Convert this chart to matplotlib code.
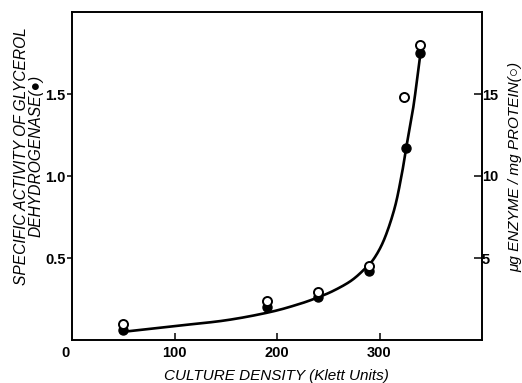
import matplotlib

matplotlib.use("Agg")
import matplotlib.pyplot as plt
import numpy as np

# values
density_filled = [50, 190, 240, 290, 326, 340]
activity_filled = [0.06, 0.20, 0.26, 0.42, 1.17, 1.75]

density_open = [50, 190, 240, 290, 324, 340]
enzyme_open = [1.0, 2.4, 2.9, 4.5, 14.8, 18.0]

# hand-drawn fit line, traced point by point
curve_x = [50, 100, 150, 193, 222, 240, 255, 272, 285, 295, 305, 315, 322, 326, 333, 340]
curve_y = [0.05, 0.085, 0.12, 0.17, 0.22, 0.26, 0.30, 0.36, 0.43, 0.50, 0.62, 0.81, 1.02, 1.17, 1.42, 1.75]

x_ticks = [100, 200, 300]
left_ticks = [0.5, 1.0, 1.5]
left_labels = ["0.5", "1.0", "1.5"]
right_ticks = [5, 10, 15]


def smooth_path(xs, ys, steps=20):
    # Catmull-Rom through the traced points, only to draw the line smoothly
    pts = np.column_stack([xs, ys]).astype(float)
    pts = np.vstack([2 * pts[0] - pts[1], pts, 2 * pts[-1] - pts[-2]])
    out = []
    t = np.linspace(0, 1, steps, endpoint=False)[:, None]
    for i in range(1, len(pts) - 2):
        p0, p1, p2, p3 = pts[i - 1], pts[i], pts[i + 1], pts[i + 2]
        seg = 0.5 * ((2 * p1) + (-p0 + p2) * t + (2 * p0 - 5 * p1 + 4 * p2 - p3) * t ** 2
                     + (-p0 + 3 * p1 - 3 * p2 + p3) * t ** 3)
        out.append(seg)
    out.append(pts[-2][None, :])
    out = np.vstack(out)
    return out[:, 0], out[:, 1]


plt.rcParams["font.family"] = ["Liberation Sans", "DejaVu Sans"]

fig = plt.figure(figsize=(5.22, 3.83), dpi=100)
ax = fig.add_axes([72 / 522, 43 / 383, 410 / 522, 328 / 383])

sx, sy = smooth_path(curve_x, curve_y)
ax.plot(sx, sy, color="black", lw=1.9, zorder=2, solid_capstyle="round")
ax.plot(density_filled, activity_filled, "o", ms=6.5, mfc="black", mec="black", zorder=3)

ax.set_xlim(0, 400)
ax.set_ylim(0, 2.0)
ax.set_xticks(x_ticks)
ax.set_xticklabels([str(t) for t in x_ticks], fontweight="bold")
ax.set_yticks(left_ticks)
ax.set_yticklabels(left_labels, fontweight="bold")
ax.tick_params(axis="x", direction="in", length=5, width=1.1, pad=4, labelsize=10.5)
ax.tick_params(axis="y", direction="out", length=3.5, width=1.1, pad=1, labelsize=10.5)
for side in ["left", "right", "top", "bottom"]:
    ax.spines[side].set_linewidth(1.2)

ax2 = ax.twinx()
ax2.set_ylim(0, 20)
ax2.set_yticks(right_ticks)
ax2.set_yticklabels([str(t) for t in right_ticks], fontweight="bold")
ax2.tick_params(axis="y", direction="in", length=6, width=1.1, pad=0, labelsize=10.5)
for side in ["left", "right", "top", "bottom"]:
    ax2.spines[side].set_linewidth(1.2)
ax2.plot(density_open, enzyme_open, "o", ms=6.5, mfc="white", mec="black", mew=1.4, zorder=4)

# shared origin label at the corner
ax.annotate("0", xy=(0, 0), xytext=(-5, -4), textcoords="offset points",
            ha="center", va="top", fontsize=10.5, fontweight="bold")

fig.text(0.53, 0.0, "CULTURE DENSITY (Klett Units)", ha="center", va="bottom",
         fontsize=11, style="italic")
fig.text(29 / 522, 1 - 156 / 383, "SPECIFIC ACTIVITY OF GLYCEROL\nDEHYDROGENASE(\u25cf)",
         rotation=90, ha="center", va="center", fontsize=11.2, style="italic",
         linespacing=1.0, multialignment="center")
fig.text(515 / 522, 1 - 167 / 383, "\u03bcg ENZYME / mg PROTEIN(\u25cb)",
         rotation=90, ha="center", va="center", fontsize=11, style="italic")

fig.savefig("out.png", dpi=100)
